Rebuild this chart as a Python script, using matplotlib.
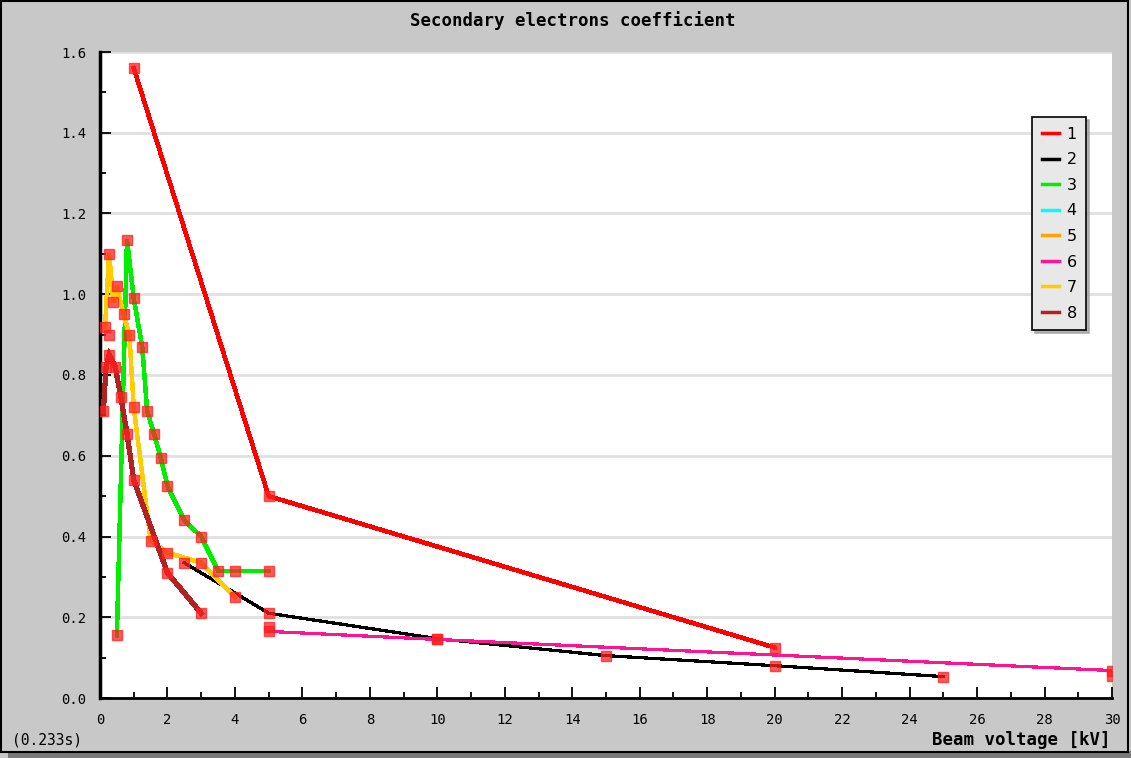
import matplotlib
matplotlib.use("Agg")
import matplotlib.pyplot as plt
from matplotlib.lines import Line2D
from matplotlib.patches import Rectangle
from matplotlib.ticker import MultipleLocator


# secondary electron yield vs beam voltage, one list pair per sample
v1 = [1.0, 5.0, 20.0]
d1 = [1.56, 0.50, 0.125]

v2 = [2.5, 5.0, 10.0, 15.0, 20.0, 25.0]
d2 = [0.335, 0.21, 0.147, 0.105, 0.08, 0.053]

v3 = [0.5, 0.8, 1.0, 1.25, 1.4, 1.6, 1.8, 2.0, 2.5, 3.0, 3.5, 4.0, 5.0]
d3 = [0.155, 1.135, 0.99, 0.87, 0.71, 0.655, 0.595, 0.525, 0.44, 0.40, 0.315, 0.315, 0.315]

v4 = [0.27, 5.0]
d4 = [0.90, 0.176]

v5 = [30.0]
d5 = [0.055]

v6 = [5.0, 10.0, 30.0]
d6 = [0.165, 0.145, 0.068]

v7 = [0.15, 0.27, 0.4, 0.5, 0.7, 0.87, 1.0, 1.5, 2.0, 3.0, 4.0]
d7 = [0.92, 1.10, 0.98, 1.02, 0.95, 0.90, 0.72, 0.39, 0.36, 0.335, 0.25]

v8 = [0.1, 0.18, 0.27, 0.45, 0.62, 0.8, 1.0, 2.0, 3.0]
d8 = [0.71, 0.82, 0.85, 0.82, 0.745, 0.655, 0.54, 0.31, 0.21]

labels = ["1", "2", "3", "4", "5", "6", "7", "8"]
colors = ["#ff0000", "#000000", "#00ee00", "#00ffff",
          "#ffa500", "#ff1493", "#ffcc00", "#b22222"]
widths = [2.5, 1.6, 2.5, 2.0, 2.0, 1.6, 2.5, 3.0]

series = [(v1, d1), (v2, d2), (v3, d3), (v4, d4),
          (v5, d5), (v6, d6), (v7, d7), (v8, d8)]
# samples 4 and 5 only have scattered points, no connecting curve
connected = [True, True, True, False, False, True, True, True]

W, H = 1131, 758
fig = plt.figure(figsize=(W / 100, H / 100), dpi=100)
fig.patch.set_facecolor("#c8c8c8")

# window frame and drop shadow
fig.add_artist(Rectangle((8 / W, 0), 1 - 8 / W, 7 / H, transform=fig.transFigure,
                         facecolor="#7a7a7a", edgecolor="none", zorder=0))
fig.add_artist(Rectangle((1 / W, 6 / H), 1127 / W, 751 / H, transform=fig.transFigure,
                         facecolor="#c8c8c8", edgecolor="black", linewidth=1.5, zorder=0))

ax = fig.add_axes([100 / W, 60 / H, 1012 / W, 646 / H])
ax.set_facecolor("white")

for (vx, dy), col, lw, con in zip(series, colors, widths, connected):
    if con:
        ax.plot(vx, dy, color=col, linewidth=lw, antialiased=False, zorder=3,
                solid_joinstyle="miter")
    ax.plot(vx, dy, linestyle="none", marker="s", markersize=6.5,
            markerfacecolor="#ff2020", markeredgecolor="#ff2020",
            alpha=0.75, zorder=4)

ax.set_xlim(0, 30)
ax.set_ylim(0, 1.6)

ax.xaxis.set_major_locator(MultipleLocator(2))
ax.xaxis.set_minor_locator(MultipleLocator(1))
ax.yaxis.set_major_locator(MultipleLocator(0.2))
ax.yaxis.set_minor_locator(MultipleLocator(0.1))
ax.yaxis.set_major_formatter(plt.FuncFormatter(lambda v, p: f"{v:.1f}"))

ax.grid(axis="y", which="major", color="#e0e0e0", linewidth=2)
ax.set_axisbelow(True)

for side in ["top", "right"]:
    ax.spines[side].set_visible(False)
ax.spines["left"].set_linewidth(2.5)
ax.spines["bottom"].set_linewidth(2)

mono = "DejaVu Sans Mono"
ax.tick_params(which="major", direction="in", length=8, width=1.3,
               labelsize=10, pad=10)
ax.tick_params(axis="x", which="major", pad=11)
ax.tick_params(which="minor", direction="in", length=4, width=1.3)
for lab in ax.get_xticklabels() + ax.get_yticklabels():
    lab.set_family(mono)

fig.text(573 / W, 1 - 21 / H, "Secondary electrons coefficient", ha="center",
         va="center", fontsize=12.5, fontweight="bold", family=mono)
fig.text(1110 / W, 1 - 740 / H, "Beam voltage [kV]", ha="right", va="center",
         fontsize=12.5, fontweight="bold", family=mono)
fig.text(12 / W, 1 - 740 / H, "(0.233s)", ha="left", va="center",
         fontsize=10.5, family=mono)

handles = [Line2D([0], [0], color=c, linewidth=2.5) for c in colors]
leg = ax.legend(handles, labels, loc="upper left",
                bbox_to_anchor=(0.921, 0.899), borderaxespad=0,
                fontsize=11.5, handlelength=1.1, handletextpad=0.45,
                labelspacing=0.66, borderpad=0.6, fancybox=False,
                shadow={"color": "#a0a0a0", "alpha": 0.8})
leg.get_frame().set_facecolor("#e8e8e8")
leg.get_frame().set_edgecolor("black")
leg.get_frame().set_alpha(1)
leg.get_frame().set_linewidth(1.2)

fig.savefig("out.png", dpi=100, facecolor=fig.get_facecolor())
